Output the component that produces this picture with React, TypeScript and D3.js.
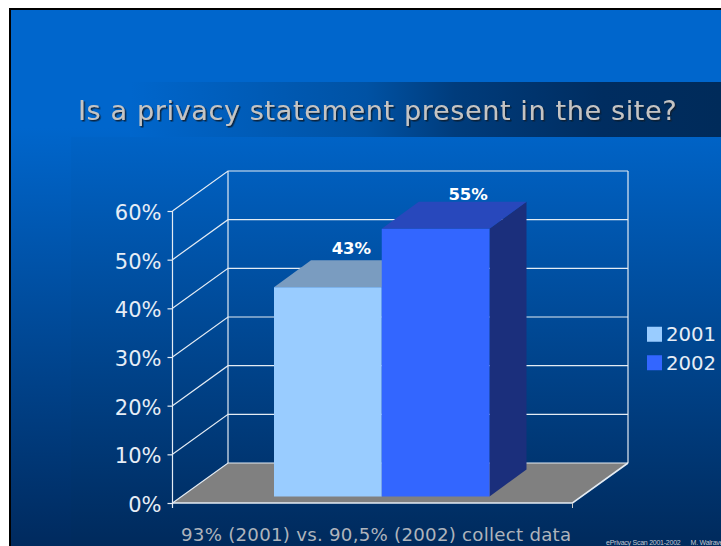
import React, { useRef, useEffect } from "react";
import * as d3 from "d3";

const years = ["2001", "2002"];
const values = [43, 55];
const tickValues = [0, 10, 20, 30, 40, 50, 60];
const title = "Is a privacy statement present in the site?";
const caption = "93% (2001) vs. 90,5% (2002) collect data";
const footer = "ePrivacy Scan 2001-2002      M. Walrave";
const barColors = { 2001: ["#99ccff", "#7a9cc0", "#6d93bb"], 2002: ["#3366ff", "#2848bc", "#1b2f7c"] };

const width = 721;
const height = 546;
const font = "'DejaVu Sans', Verdana, sans-serif";

const App = () => {
  const svgRef = useRef<SVGSVGElement>(null);

  useEffect(() => {
    const svg = d3.select(svgRef.current);
    svg.selectAll("*").remove();

    const defs = svg.append("defs");
    const bg = defs.append("linearGradient").attr("id", "bg").attr("x2", 0).attr("y2", 1);
    bg.append("stop").attr("offset", 0).attr("stop-color", "#0066cc");
    bg.append("stop").attr("offset", 0.22).attr("stop-color", "#0066cc");
    bg.append("stop").attr("offset", 1).attr("stop-color", "#002a5e");
    const panel = defs.append("linearGradient").attr("id", "panel").attr("x2", 0).attr("y2", 1);
    panel.append("stop").attr("offset", 0).attr("stop-color", "#0063c6");
    panel.append("stop").attr("offset", 1).attr("stop-color", "#002a5c");
    const band = defs.append("linearGradient").attr("id", "band");
    band.append("stop").attr("offset", 0).attr("stop-color", "#0066cc");
    band.append("stop").attr("offset", 0.4).attr("stop-color", "#0052a4");
    band.append("stop").attr("offset", 0.55).attr("stop-color", "#003c7c");
    band.append("stop").attr("offset", 0.8).attr("stop-color", "#002d60");
    band.append("stop").attr("offset", 1).attr("stop-color", "#002b5a");
    const shadow = defs.append("filter").attr("id", "shadow");
    shadow.append("feDropShadow").attr("dx", 1.5).attr("dy", 1.5).attr("stdDeviation", 0.4).attr("flood-color", "#111d33").attr("flood-opacity", 0.9);

    // slide background
    svg.append("rect").attr("width", width).attr("height", height).attr("fill", "#fff");
    svg.append("rect").attr("x", 9).attr("y", 8).attr("width", width - 9).attr("height", height - 8).attr("fill", "#000");
    svg.append("rect").attr("x", 11).attr("y", 10).attr("width", width - 11).attr("height", height - 10).attr("fill", "url(#bg)");
    svg.append("rect").attr("x", 71).attr("y", 137).attr("width", width - 71).attr("height", height - 137).attr("fill", "url(#panel)");
    svg.append("rect").attr("x", 130).attr("y", 82).attr("width", width - 130).attr("height", 55).attr("fill", "url(#band)");

    svg.append("text").attr("x", 78).attr("y", 120).attr("font-family", font).attr("font-size", 27)
      .attr("letter-spacing", 0.65)
      .attr("fill", "#c4c4c4").attr("filter", "url(#shadow)").text(title);

    // plot frame: front plane and the depth offset of the box
    const x0 = 172.5;
    const x1 = 572.5;
    const depthX = 55.5;
    const depthY = 40;
    const yFront = d3.scaleLinear().domain([0, 60]).range([503, 211]);
    const yBack = (v: number) => yFront(v) - depthY;

    // floor
    svg.append("path")
      .attr("d", d3.line()([[x0, yFront(0)], [x1, yFront(0)], [x1 + depthX, yBack(0)], [x0 + depthX, yBack(0)]]) + "Z")
      .attr("fill", "#808080");

    // gridlines on side and back walls
    const grid = svg.append("g").attr("stroke", "#e4ecf4").attr("stroke-width", 1.2).attr("fill", "none");
    tickValues.forEach((t) => {
      grid.append("path").attr("d", d3.line()([[x0, yFront(t)], [x0 + depthX, yBack(t)], [x1 + depthX, yBack(t)]]));
    });
    grid.append("path").attr("d", d3.line()([[x0 + depthX, yBack(0)], [x0 + depthX, yBack(60)]]));
    grid.append("path").attr("d", d3.line()([[x1 + depthX, yBack(0)], [x1 + depthX, yBack(60)]]));
    grid.append("path").attr("d", d3.line()([[x0, yFront(0)], [x1, yFront(0)], [x1 + depthX, yBack(0)]])).attr("stroke-width", 1.6);

    // value axis
    const axis = svg.append("g").attr("transform", `translate(${x0},0)`)
      .call(d3.axisLeft(yFront).tickValues(tickValues).tickSize(5).tickPadding(6).tickFormat((d) => `${d}%`));
    axis.selectAll("path, line").attr("stroke", "#e4ecf4").attr("stroke-width", 1.2);
    axis.selectAll("text").attr("font-family", font).attr("font-size", 21).attr("fill", "#e6edf6").attr("dy", "0.4em");
    axis.select(".domain").attr("d", `M0,${yFront(60)}V${yFront(0) + 5}`);

    // category tick at the end of the floor
    svg.append("line").attr("x1", x1).attr("x2", x1).attr("y1", yFront(0)).attr("y2", yFront(0) + 5).attr("stroke", "#c8c8c8");

    // bars
    const inset = 6.5;
    const barDepthX = 37;
    const barDepthY = 27;
    const labelDx = [23.5, 32.5];
    const labelDy = [33, 29];
    const xBar = d3.scaleBand().domain(years).range([274, 489.5]);
    const yBar = (v: number) => yFront(v) - inset;

    years.forEach((year, i) => {
      const [front, top, side] = barColors[year];
      const left = xBar(year)!;
      const right = left + xBar.bandwidth();
      const yTop = yBar(values[i]);
      const yBottom = yBar(0);
      const g = svg.append("g");
      g.append("path")
        .attr("d", d3.line()([[right, yTop], [right + barDepthX, yTop - barDepthY], [right + barDepthX, yBottom - barDepthY], [right, yBottom]]) + "Z")
        .attr("fill", side);
      g.append("path")
        .attr("d", d3.line()([[left, yTop], [left + barDepthX, yTop - barDepthY], [right + barDepthX, yTop - barDepthY], [right, yTop]]) + "Z")
        .attr("fill", top);
      g.append("rect").attr("x", left).attr("y", yTop).attr("width", right - left).attr("height", yBottom - yTop).attr("fill", front);
      g.append("text")
        .attr("x", left + xBar.bandwidth() / 2 + labelDx[i])
        .attr("y", yTop - labelDy[i])
        .attr("text-anchor", "middle")
        .attr("font-family", font)
        .attr("font-size", 16.5)
        .attr("font-weight", "bold")
        .attr("fill", "#fff")
        .text(`${values[i]}%`);
    });

    // legend
    const yLegend = d3.scaleBand().domain(years).range([320, 377]);
    years.forEach((year) => {
      const cy = yLegend(year)! + yLegend.bandwidth() / 2;
      svg.append("rect").attr("x", 647).attr("y", cy - 7.5).attr("width", 15).attr("height", 15).attr("fill", barColors[year][0]);
      svg.append("text").attr("x", 666).attr("y", cy + 7).attr("font-family", font).attr("font-size", 19.7).attr("fill", "#e6edf6").text(year);
    });

    svg.append("text").attr("x", 181).attr("y", 541).attr("font-family", font).attr("font-size", 18.2).attr("letter-spacing", 0.25).attr("fill", "#aeb4bc").text(caption);
    svg.append("text").attr("x", 606).attr("y", 544.5).attr("font-family", "'Liberation Sans', Arial, sans-serif").attr("font-size", 7).attr("letter-spacing", -0.25).attr("fill", "#c2c8d0")
      .style("white-space", "pre").text(footer);
  }, []);

  return <svg ref={svgRef} width={width} height={height} style={{ position: "absolute", top: 0, left: 0 }} />;
};

export default App;
